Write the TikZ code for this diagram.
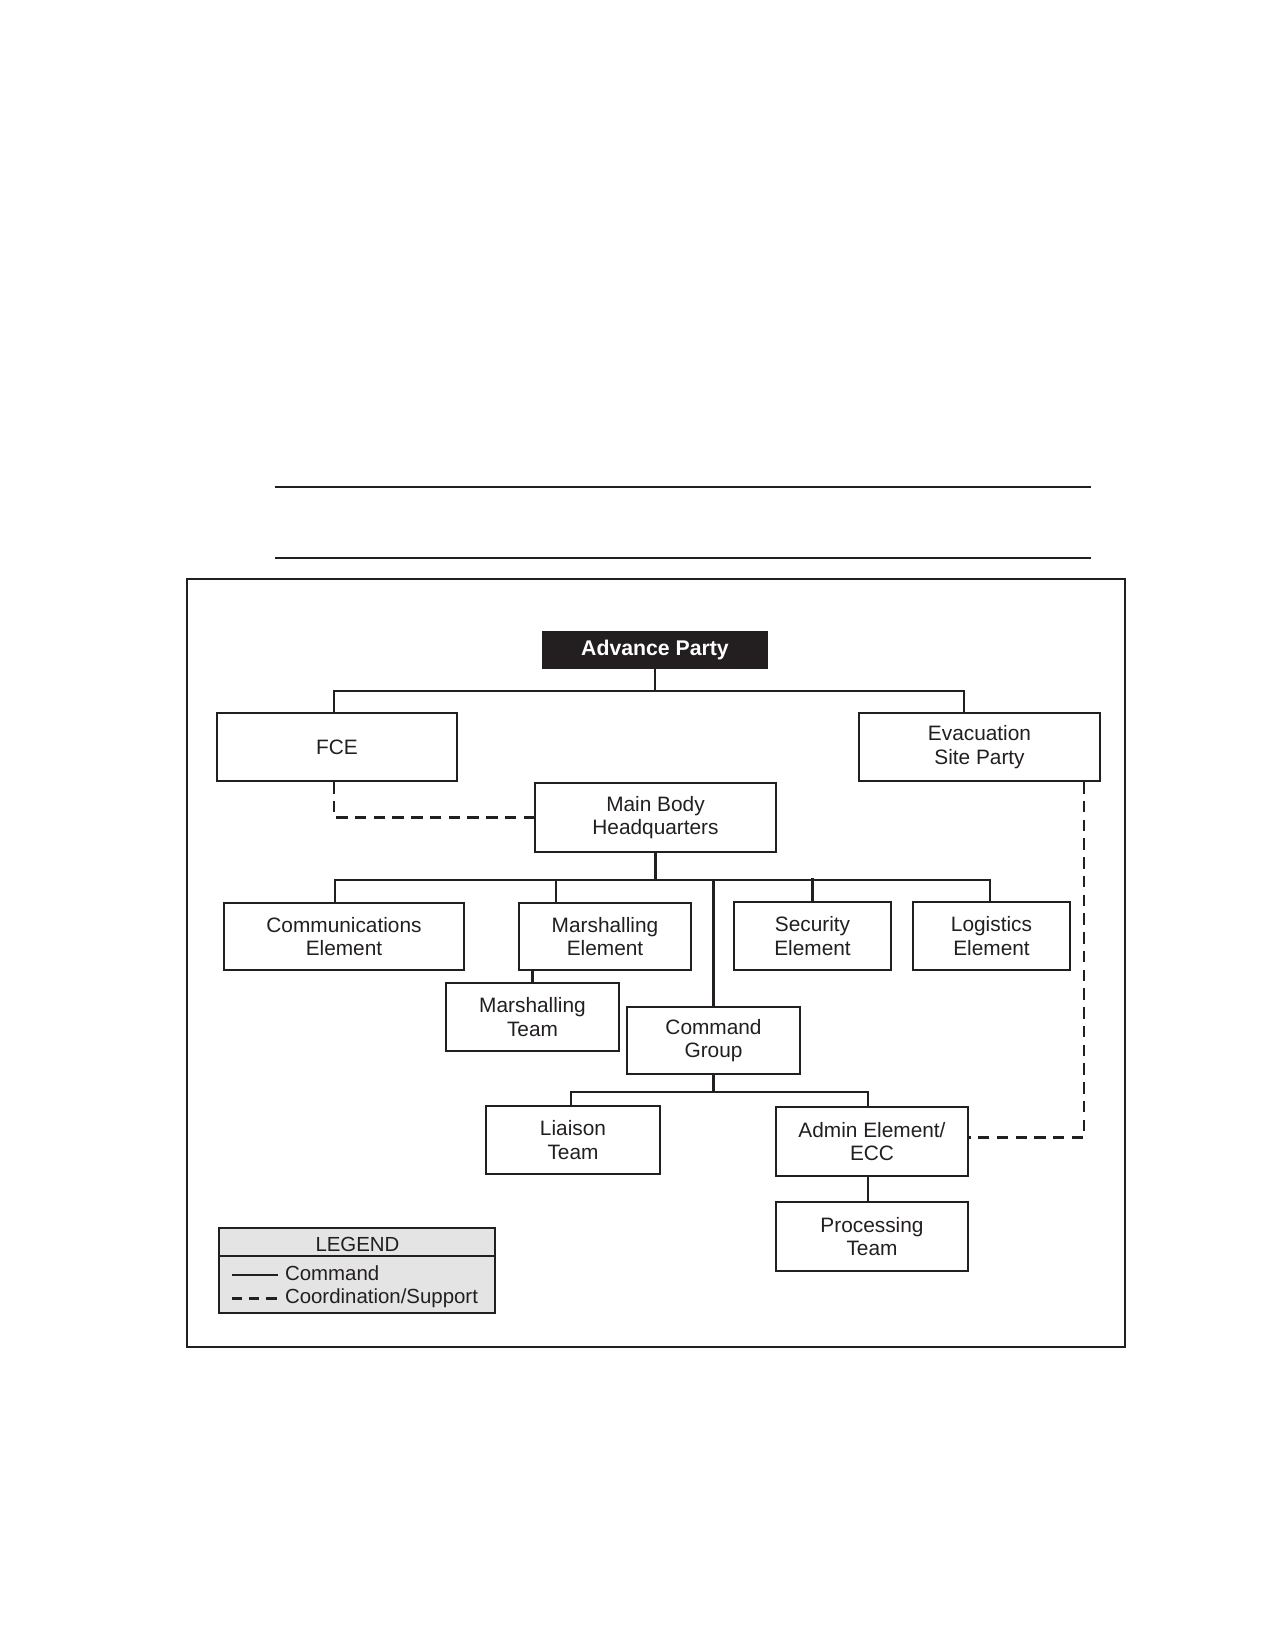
\documentclass[tikz,border=0pt]{standalone}
\usepackage{fontspec}
\setmainfont{Liberation Sans}
\usetikzlibrary{calc}
\definecolor{ink}{HTML}{231F20}
\definecolor{legfill}{HTML}{E4E4E4}
\begin{document}
\begin{tikzpicture}[x=0.48pt,y=-0.48pt,
  font=\fontsize{10pt}{11.2pt}\selectfont,
  line width=1pt, draw=ink,
  bx/.style 2 args={draw=ink, fill=white, line width=1pt, align=center, inner sep=0pt,
     text=ink, minimum width=#1*0.48pt, minimum height=#2*0.48pt},
  conn/.style={draw=ink, line width=1pt},
  coord/.style={draw=ink, line width=1pt, dash pattern=on 5.5pt off 3.5pt},
  legtext/.style={text=ink, inner sep=0pt, font=\fontsize{9.8pt}{11pt}\selectfont}]
\useasboundingbox (0,0) rectangle (1275,1650);

% header rules and frame
\coordinate (r1a) at (275,487); \coordinate (r1b) at (1091,487);
\coordinate (r2a) at (275,558); \coordinate (r2b) at (1091,558);
\draw[conn] (r1a) -- (r1b);
\draw[conn] (r2a) -- (r2b);
\coordinate (fr1) at (187,579); \coordinate (fr2) at (1125,1347);
\draw[conn] (fr1) rectangle (fr2);

% boxes
\node[bx={224}{36}, fill=ink, text=white, font=\fontsize{10.2pt}{11.2pt}\selectfont\bfseries] (adv) at (655,650) {Advance Party};
\node[bx={240}{68}] (fce) at (337,747) {FCE};
\node[bx={241}{68}] (evac) at (979.5,747) {Evacuation\\Site Party};
\node[bx={241}{69}] (main) at (655.5,817.5) {Main Body\\Headquarters};
\node[bx={240}{67}] (comm) at (344,936.5) {Communications\\Element};
\node[bx={172}{67}] (marE) at (605,936.5) {Marshalling\\Element};
\node[bx={157}{68}] (sec) at (812.5,936) {Security\\Element};
\node[bx={157}{68}] (log) at (991.5,936) {Logistics\\Element};
\node[bx={173}{68}] (marT) at (532.5,1017) {Marshalling\\Team};
\node[bx={173}{67}] (cg) at (713.5,1040.5) {Command\\Group};
\node[bx={174}{68}] (liaison) at (573,1140) {Liaison\\Team};
\node[bx={192}{69}] (admin) at (872,1141.5) {Admin Element/\\ECC};
\node[bx={192}{69}] (proc) at (872,1236.5) {Processing\\Team};

% command connectors
\draw[conn] (adv.south) -- ++(0,22) coordinate (bus1);
\draw[conn] ($(fce.north)+(-3,0)$) |- (bus1) -| ($(evac.north)+(-15.5,0)$);
\draw[conn] (main.south) -- ++(0,27) coordinate (bus2);
\draw[conn] ($(comm.north)+(-9,0)$) |- (bus2) -| ($(log.north)+(-1.5,0)$);
\draw[conn] ($(marE.north)+(-49,0)$) -- ($(marE.north)+(-49,-23)$);
\draw[conn] (sec.north) -- ++(0,-23);
\draw[conn] (cg.north) -- ++(0,-127);
\draw[conn] (marT.north) -- (marT.north |- marE.south);
\draw[conn] (cg.south) -- ++(0,17) coordinate (bus3);
\draw[conn] ($(liaison.north)+(-2,0)$) |- (bus3) -| ($(admin.north)+(-4,0)$);
\draw[conn] ($(admin.south)+(-4,0)$) -- ($(proc.north)+(-4,0)$);

% coordination connectors
\draw[coord] ($(fce.south)+(-3,0)$) |- (main.west);
\draw[coord] ($(evac.south)+(104.5,0)$) |- ($(admin.east)+(0,-4)$);

% legend
\node[draw=ink, fill=legfill, line width=1pt, inner sep=0pt,
  minimum width=276*0.48pt, minimum height=85*0.48pt] (legend) at (357,1270.5) {};
\draw[conn] ($(legend.north west)+(0,29)$) -- ($(legend.north east)+(0,29)$);
\node[legtext, anchor=base] (legtitle) at (357.5,1251.5) {LEGEND};
\coordinate (la1) at (231.5,1275); \coordinate (la2) at (278,1275);
\draw[conn] (la1) -- (la2);
\node[legtext, anchor=base west] (legcmd) at (284,1280) {Command};
\coordinate (lb1) at (231.5,1298.5); \coordinate (lb2) at (278,1298.5);
\draw[draw=ink, line width=1pt, dash pattern=on 5pt off 3.3pt] (lb1) -- (lb2);
\node[legtext, anchor=base west] (legcoord) at (284,1303.3) {Coordination/Support};
\end{tikzpicture}
\end{document}
